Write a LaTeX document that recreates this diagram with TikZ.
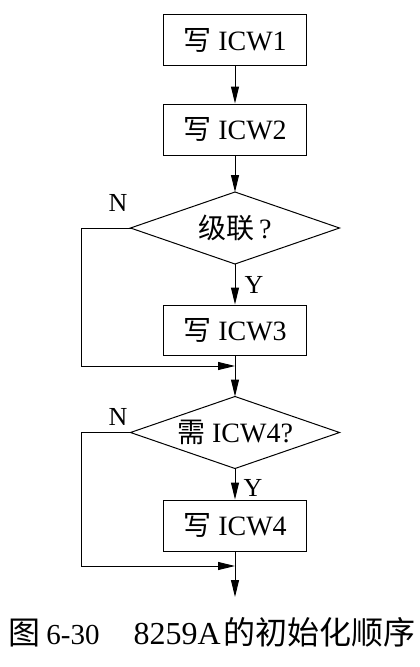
\documentclass[tikz,border=0pt]{standalone}
\usepackage{fontspec}
\setmainfont{Liberation Serif}
\newfontfamily\cjk{Noto Sans CJK SC}
\usetikzlibrary{arrows.meta}
\begin{document}
\begin{tikzpicture}[x=1pt,y=-1pt,
  line width=1pt,
  procbox/.style={draw,rectangle,minimum width=143pt,minimum height=51pt,inner sep=0pt,font=\fontsize{28}{32}\selectfont},
  decbox/.style={rectangle,minimum width=208pt,minimum height=71pt,inner sep=0pt},
  dectext/.style={font=\fontsize{28}{32}\selectfont},
  arr/.style={-{Triangle[length=17pt,width=8pt]}},
  lbl/.style={font=\fontsize{26}{30}\selectfont,inner sep=0pt}]
\useasboundingbox (0,0) rectangle (420,667);
\node[procbox] (b1) at (235,40) {{\cjk 写} ICW1};
\node[procbox] (b2) at (235,129.5) {{\cjk 写} ICW2};
\node[decbox] (d1) at (235,228) {};
\draw (d1.north) -- (d1.east) -- (d1.south) -- (d1.west) -- cycle;
\node[dectext] (t1) at (d1.center) {{\cjk 级联}\,?};
\node[procbox,minimum height=50pt] (b3) at (235,330) {{\cjk 写} ICW3};
\coordinate (m1) at (235,366);
\coordinate (l1) at (81,228);
\coordinate (l1b) at (81,366);
\node[decbox] (d2) at (235,432.5) {};
\draw (d2.north) -- (d2.east) -- (d2.south) -- (d2.west) -- cycle;
\node[dectext] (t2) at (d2.center) {{\cjk 需} ICW4?};
\node[procbox] (b4) at (235,525.5) {{\cjk 写} ICW4};
\coordinate (m2) at (235,566);
\coordinate (l2) at (81,432.5);
\coordinate (l2b) at (81,566);
\coordinate (e) at (235,597);
\draw[arr] (b1.south) -- (b2.north);
\draw[arr] (b2.south) -- (d1.north);
\draw[arr] (d1.south) -- (b3.north);
\node[lbl] (y1) at (254,285) {Y};
\node[lbl] (n1) at (118,203) {N};
\draw (d1.west) -- (l1) -- (l1b);
\draw[arr] (l1b) -- (m1);
\draw (b3.south) -- (m1);
\draw[arr] (m1) -- (d2.north);
\draw[arr] (d2.south) -- (b4.north);
\node[lbl] (y2) at (253,488) {Y};
\node[lbl] (n2) at (118,417) {N};
\draw (d2.west) -- (l2) -- (l2b);
\draw[arr] (l2b) -- (m2);
\draw (b4.south) -- (m2);
\draw[arr] (m2) -- (e);
\node[inner sep=0pt,anchor=west] (cap) at (8,632) {\fontsize{32}{36}\selectfont{\cjk 图}\hspace{6pt}{\fontsize{29}{32}\selectfont 6-30}\hspace{34pt}8259A\hspace{3pt}{\cjk 的初始化顺序}};
\end{tikzpicture}
\end{document}
